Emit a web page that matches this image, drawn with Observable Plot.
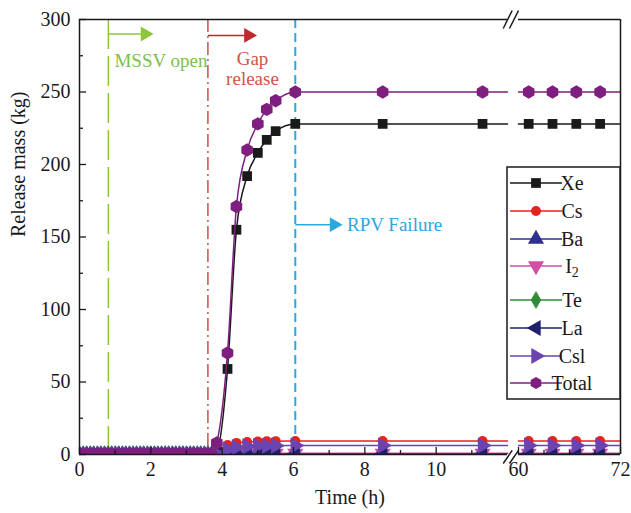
<!DOCTYPE html>
<html><head><meta charset="utf-8">
<script src="https://cdn.jsdelivr.net/npm/d3@7"></script>
<script src="https://cdn.jsdelivr.net/npm/@observablehq/plot@0.6"></script>
<style>body{margin:0;background:#fff}#chart{position:relative;width:631px;height:513px}</style>
</head><body><div id="chart"></div>
<script>
// ---- data ----
const seriesNames = ["Xe", "Cs", "Ba", "I2", "Te", "La", "Csl", "Total"];
const seriesColors = ["#1a1a1a", "#e5231f", "#2e3192", "#cf4fa3", "#2f8a3a", "#1f1f6e", "#6a44b0", "#7e1e7e"];
const seriesSymbols = ["square", "circle", "triangle", "triangle", "diamond", "triangle", "triangle", "hexagon"];
const seriesRotate = [0, 0, 0, 180, 0, -90, 90, 0];
const seriesRadius = [5.5, 5, 6, 6, 5.5, 6, 6, 5.8];

const baseTimes = [0, 0.1, 0.2, 0.3, 0.4, 0.5, 0.6, 0.7, 0.8, 0.9, 1.0, 1.1, 1.2, 1.3, 1.4, 1.5, 1.6, 1.7, 1.8, 1.9,
  2.0, 2.1, 2.2, 2.3, 2.4, 2.5, 2.6, 2.7, 2.8, 2.9, 3.0, 3.1, 3.2, 3.3, 3.4, 3.5, 3.6, 3.7];
const eventTimes = [3.85, 4.15, 4.4, 4.7, 5.0, 5.25, 5.5, 6.05, 8.5, 11.3, 61.2, 64, 66.8, 69.6];

const xeValues    = [2, 59, 155, 192, 208, 217, 223, 228, 228, 228, 228, 228, 228, 228];
const csValues    = [1.5, 6.5, 8, 8.6, 8.9, 9.1, 9.2, 9.3, 9.3, 9.3, 9.3, 9.3, 9.3, 9.3];
const baValues    = [0, 0.3, 0.5, 0.6, 0.6, 0.6, 0.6, 0.6, 0.6, 0.6, 0.6, 0.6, 0.6, 0.6];
const i2Values    = [0, 0.4, 0.7, 0.8, 0.8, 0.8, 0.8, 0.8, 0.8, 0.8, 0.8, 0.8, 0.8, 0.8];
const teValues    = [0, 0.3, 0.5, 0.5, 0.5, 0.5, 0.5, 0.5, 0.5, 0.5, 0.5, 0.5, 0.5, 0.5];
const laValues    = [0, 0.1, 0.2, 0.2, 0.2, 0.2, 0.2, 0.2, 0.2, 0.2, 0.2, 0.2, 0.2, 0.2];
const cslValues   = [0.5, 3.5, 5, 5.6, 5.9, 6.0, 6.1, 6.2, 6.2, 6.2, 6.2, 6.2, 6.2, 6.2];
const totalValues = [8, 70, 171, 210, 228, 238, 244, 250, 250, 250, 250, 250, 250, 250];
const seriesValues = [xeValues, csValues, baValues, i2Values, teValues, laValues, cslValues, totalValues];

// axis ends of the two segments of the broken time axis
const segmentEnds = [12, 60, 72];
const xMajorTicks = [0, 2, 4, 6, 8, 10, 60, 72];
const xMinorTicks = [1, 3, 5, 7, 9, 11, 63, 66, 69];
const yMajorTicks = [0, 50, 100, 150, 200, 250, 300];
const yMinorTicks = [25, 75, 125, 175, 225, 275];
// axis-break slashes (time, mass) pairs
const breakX1 = [11.88, 20.7, 11.88, 20.7];
const breakX2 = [32.5, 60, 32.5, 60];
const breakY1 = [-6.2, -6.2, 293.8, 293.8];
const breakY2 = [2.8, 2.8, 306.2, 306.2];

// events
const eventLabels = ["MSSV open", "Gap\nrelease", "RPV Failure"];
const eventTimesV = [0.81, 3.6, 6.05];
const eventColors = ["#8cc63f", "#c9504a", "#2aa8df"];
const eventTextColors = ["#7cc04a", "#d0534a", "#2aa8df"];
const arrowColors = ["#8cc63f", "#c1272d", "#2aa8df"];
const arrowEnds = [1.95, 4.85, 7.25];
const arrowLevels = [290, 289, 158.5];
const labelX = [0.98, 4.85, 7.5];
const labelY = [271.5, 266, 158.5];

// ---- build tables ----
const markerRows = [], lineRows = [];
seriesNames.forEach((name, i) => {
  baseTimes.forEach(t => { markerRows.push({s: i, t, v: 0}); lineRows.push({s: i, t, v: 0, seg: 0}); });
  eventTimes.forEach((t, j) => {
    const v = seriesValues[i][j];
    markerRows.push({s: i, t, v});
    lineRows.push({s: i, t, v, seg: t < 30 ? 0 : 1});
  });
  const last = seriesValues[i][seriesValues[i].length - 1];
  segmentEnds.forEach(t => lineRows.push({s: i, t, v: last, seg: t < 30 ? 0 : 1}));
});
lineRows.sort((a, b) => a.s - b.s || a.seg - b.seg || a.t - b.t);

const seriesMarks = [];
seriesNames.forEach((name, i) => {
  seriesMarks.push(Plot.line(lineRows.filter(d => d.s === i), {
    x: "t", y: "v", z: "seg", stroke: seriesColors[i], strokeWidth: 1.5, curve: "monotone-x", clip: true
  }));
  seriesMarks.push(Plot.dot(markerRows.filter(d => d.s === i), {
    x: "t", y: "v", symbol: seriesSymbols[i], r: seriesRadius[i], fill: seriesColors[i], stroke: "none",
    rotate: seriesRotate[i], clip: true
  }));
});

const events = eventLabels.map((label, i) => ({
  label, t: eventTimesV[i], x2: arrowEnds[i], ay: arrowLevels[i], lx: labelX[i], ly: labelY[i], i
}));
const breaks = breakX1.map((x1, i) => ({x1, x2: breakX2[i], y1: breakY1[i], y2: breakY2[i]}));

const plot = Plot.plot({
  width: 631, height: 513,
  marginLeft: 79, marginRight: 11, marginTop: 19, marginBottom: 59,
  style: {fontFamily: "'Liberation Serif', serif", fontSize: "20px", background: "#fff", color: "#1a1a1a"},
  x: {type: "linear", domain: [0, 12, 60, 72], range: [79, 507, 518, 620]},
  y: {domain: [0, 300]},
  marks: [
    // event lines
    Plot.ruleX([events[0]], {x: "t", stroke: eventColors[0], strokeWidth: 1.5, strokeDasharray: "30,7"}),
    Plot.ruleX([events[1]], {x: "t", stroke: eventColors[1], strokeWidth: 1.5, strokeDasharray: "13,4,2,4"}),
    Plot.ruleX([events[2]], {x: "t", stroke: eventColors[2], strokeWidth: 2, strokeDasharray: "9,5"}),
    // arrows
    Plot.link(events, {x1: "t", x2: "x2", y1: "ay", y2: "ay", stroke: d => arrowColors[d.i], strokeWidth: 1.5}),
    Plot.dot(events, {x: "x2", y: "ay", symbol: "triangle", rotate: 90, r: 5.5, dx: -4, fill: d => arrowColors[d.i], stroke: "none"}),
    Plot.text([events[0]], {x: "lx", y: "ly", text: "label", textAnchor: "start", fill: eventTextColors[0], fontSize: 19}),
    Plot.text([events[1]], {x: "lx", y: "ly", text: "label", textAnchor: "middle", fill: eventTextColors[1], fontSize: 19, lineHeight: 1.05}),
    Plot.text([events[2]], {x: "lx", y: "ly", text: "label", textAnchor: "start", fill: eventTextColors[2], fontSize: 19}),
    // series
    ...seriesMarks,
    // frame
    Plot.ruleX([0, 72], {stroke: "#1a1a1a", strokeWidth: 1.5}),
    Plot.ruleY([0, 300], {x1: 0, x2: 12, stroke: "#1a1a1a", strokeWidth: 1.5}),
    Plot.ruleY([0, 300], {x1: 60, x2: 72, stroke: "#1a1a1a", strokeWidth: 1.5}),
    Plot.link(breaks, {x1: "x1", x2: "x2", y1: "y1", y2: "y2", stroke: "#1a1a1a", strokeWidth: 1.5}),
    // axes
    Plot.axisX(xMajorTicks, {tickSize: -7, tickFormat: () => "", label: null, strokeWidth: 1.3}),
    Plot.axisX(xMinorTicks, {tickSize: -4, tickFormat: () => "", label: null, strokeWidth: 1.3}),
    Plot.axisX(xMajorTicks, {tickSize: 0, tickPadding: 7, label: null, fontSize: 20, tickFormat: d => String(d)}),
    Plot.axisY(yMajorTicks, {tickSize: -7, tickFormat: () => "", label: null, strokeWidth: 1.3}),
    Plot.axisY(yMinorTicks, {tickSize: -4, tickFormat: () => "", label: null, strokeWidth: 1.3}),
    Plot.axisY(yMajorTicks, {tickSize: 0, tickPadding: 9, label: null, fontSize: 20, tickFormat: d => String(d)}),
    Plot.text(["Time (h)"], {frameAnchor: "bottom", dy: 49, fontSize: 20, fill: "#1a1a1a"}),
    Plot.text(["Release mass (kg)"], {frameAnchor: "left", rotate: -90, dx: -61, fontSize: 20, fill: "#1a1a1a"})
  ]
});
document.getElementById("chart").appendChild(plot);

// ---- legend ----
const svg = d3.select(plot);
const lg = svg.append("g").attr("font-family", "'Liberation Serif', serif").attr("font-size", 20);
lg.append("rect").attr("x", 507).attr("y", 167).attr("width", 113).attr("height", 232)
  .attr("fill", "#fff").attr("stroke", "#1a1a1a").attr("stroke-width", 1.5);
const legendY = [183, 211, 239, 266, 300, 328, 356, 383];
const symMap = {square: d3.symbolSquare, circle: d3.symbolCircle, triangle: d3.symbolTriangle, diamond: d3.symbolDiamond};
const hexagon = {draw(ctx, size) {
  const r = Math.sqrt(size / Math.PI) * 1.05;
  for (let k = 0; k < 6; k++) { const a = Math.PI / 6 + k * Math.PI / 3;
    const px = r * Math.cos(a), py = r * Math.sin(a); k ? ctx.lineTo(px, py) : ctx.moveTo(px, py); }
  ctx.closePath(); }};
seriesNames.forEach((name, i) => {
  const g = lg.append("g").attr("transform", `translate(0,${legendY[i]})`);
  g.append("line").attr("x1", 510).attr("x2", 562).attr("stroke", seriesColors[i]).attr("stroke-width", 1.5);
  const type = seriesSymbols[i] === "hexagon" ? hexagon : symMap[seriesSymbols[i]];
  g.append("path").attr("d", d3.symbol(type, Math.PI * seriesRadius[i] ** 2)())
    .attr("transform", `translate(536,0) rotate(${seriesRotate[i]})`).attr("fill", seriesColors[i]);
  const t = g.append("text").attr("x", 572).attr("dy", "0.35em").attr("fill", "#1a1a1a");
  if (name === "I2") { t.text("I"); t.append("tspan").attr("dy", "0.3em").attr("font-size", 14).text("2"); }
  else t.text(name);
});
</script></body></html>
